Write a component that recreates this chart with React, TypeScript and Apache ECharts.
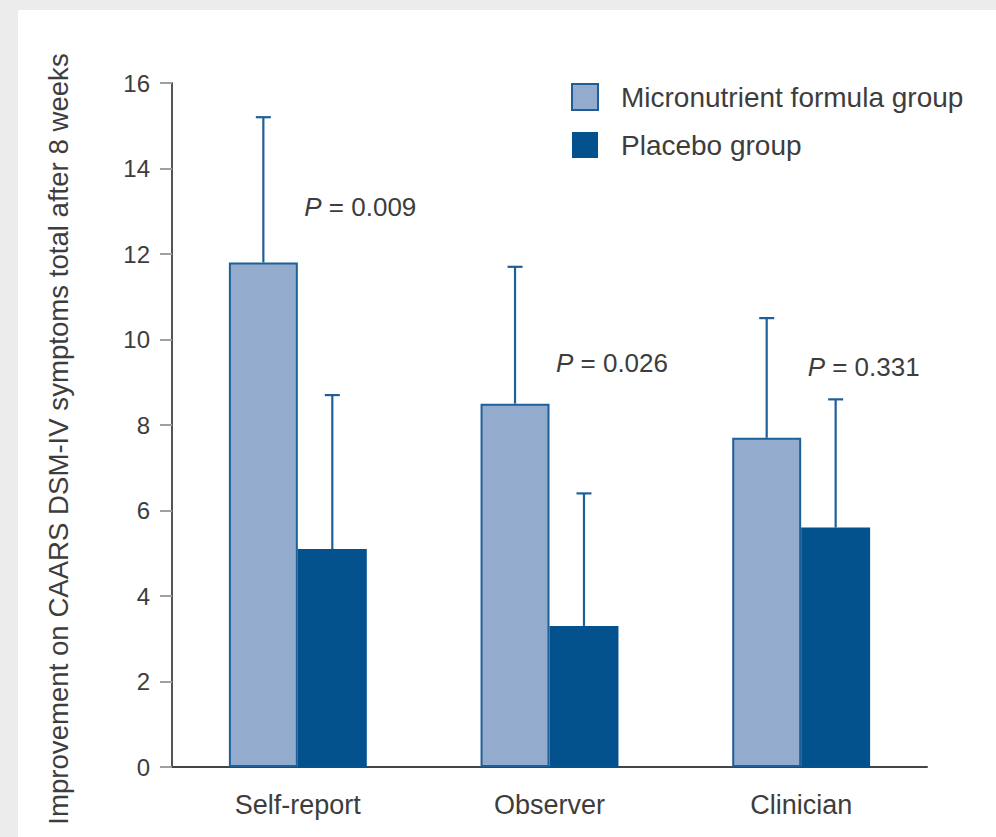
import React, { useEffect, useRef } from "react";
import * as echarts from "echarts";

const categories = ["Self-report", "Observer", "Clinician"];
const seriesNames = ["Micronutrient formula group", "Placebo group"];
const micronutrientMeans = [11.8, 8.5, 7.7];
const micronutrientUpper = [15.2, 11.7, 10.5];
const placeboMeans = [5.1, 3.3, 5.6];
const placeboUpper = [8.7, 6.4, 8.6];
const pValues = ["0.009", "0.026", "0.331"];
const yTicks = { min: 0, max: 16, interval: 2 };
const yAxisTitle = "Improvement on CAARS DSM-IV symptoms total after 8 weeks";

const FONT = "'Liberation Sans', Arial, sans-serif";
const TEXT = "#3d3d3d";
const LIGHT = "#93abcc";
const DARK = "#03528e";
const EDGE = "#1f5f98";
const BAR_RATIO = 0.274;

function errorSeries(name: string, means: number[], upper: number[], side: number) {
  return {
    type: "custom",
    name: name + " error",
    silent: true,
    z: 3,
    encode: { x: 0, y: [1, 2] },
    data: categories.map((_, i) => [i, means[i], upper[i]]),
    renderItem: (_params: any, api: any) => {
      const i = api.value(0);
      const band = api.size([1, 0])[0];
      const off = (band * BAR_RATIO) / 2 * side;
      const p0 = api.coord([i, api.value(1)]);
      const p1 = api.coord([i, api.value(2)]);
      const x = p0[0] + off;
      const style = { stroke: EDGE, lineWidth: 2.2 };
      return {
        type: "group",
        children: [
          { type: "line", shape: { x1: x, y1: p0[1], x2: x, y2: p1[1] }, style },
          { type: "line", shape: { x1: x - 7.5, y1: p1[1], x2: x + 7.5, y2: p1[1] }, style },
        ],
      };
    },
  };
}

export default function App() {
  const ref = useRef<HTMLDivElement>(null);
  useEffect(() => {
    if (!ref.current) return;
    const chart = echarts.init(ref.current, undefined, { renderer: "svg" });
    const pPos = [13.1, 9.45, 9.35];
    chart.setOption({
      animation: false,
      textStyle: { fontFamily: FONT, color: TEXT },
      grid: { left: 154, top: 73, right: 69, bottom: 70, containLabel: false },
      legend: {
        orient: "vertical",
        left: 548,
        top: 68,
        itemWidth: 26,
        itemHeight: 26,
        itemGap: 20,
        icon: "rect",
        data: seriesNames,
        textStyle: { fontFamily: FONT, fontSize: 28, color: TEXT, padding: [0, 0, 0, 18] },
      },
      xAxis: {
        type: "category",
        data: categories,
        axisLine: { lineStyle: { color: "#444", width: 2 } },
        axisTick: { length: 14, lineStyle: { color: "#444", width: 2 } },
        axisLabel: { fontFamily: FONT, fontSize: 27, color: TEXT, margin: 24 },
      },
      yAxis: {
        type: "value",
        min: yTicks.min,
        max: yTicks.max,
        interval: yTicks.interval,
        name: yAxisTitle,
        nameLocation: "middle",
        nameGap: 100,
        nameTextStyle: { fontFamily: FONT, fontSize: 27.6, color: TEXT, padding: [0, 28, 0, 0] },
        axisLine: { show: true, lineStyle: { color: "#555", width: 2 } },
        axisTick: { show: true, length: 12, lineStyle: { color: "#a0a0a0", width: 2 } },
        axisLabel: { fontFamily: FONT, fontSize: 24, color: TEXT, margin: 22 },
        splitLine: { show: false },
      },
      series: [
        {
          type: "bar",
          name: seriesNames[0],
          data: micronutrientMeans,
          barWidth: BAR_RATIO * 100 + "%",
          barGap: "0%",
          itemStyle: { color: LIGHT, borderColor: EDGE, borderWidth: 2 },
          z: 2,
        },
        {
          type: "bar",
          name: seriesNames[1],
          data: placeboMeans,
          barWidth: BAR_RATIO * 100 + "%",
          barGap: "0%",
          itemStyle: { color: DARK },
          z: 2,
          markPoint: {
            symbol: "circle",
            symbolSize: 0,
            silent: true,
            data: categories.map((c, i) => ({
              coord: [c, pPos[i]],
              value: pValues[i],
            })),
            label: {
              show: true,
              position: "right",
              distance: 5,
              offset: [-33, 0],
              formatter: (p: any) => "{i|P}{n| = " + p.value + "}",
              rich: {
                i: { fontStyle: "italic", fontSize: 26, fontFamily: FONT, color: TEXT },
                n: { fontSize: 26, fontFamily: FONT, color: TEXT },
              },
            },
          },
        },
        errorSeries(seriesNames[0], micronutrientMeans, micronutrientUpper, -1),
        errorSeries(seriesNames[1], placeboMeans, placeboUpper, 1),
      ],
    });
    return () => chart.dispose();
  }, []);
  return (
    <div style={{ position: "fixed", left: 0, top: 0, width: 996, height: 837, background: "#ececec" }}>
      <div style={{ position: "absolute", left: 18, top: 10, width: 978, height: 827, background: "#ffffff" }}>
        <div ref={ref} style={{ width: 978, height: 827 }} />
      </div>
    </div>
  );
}
